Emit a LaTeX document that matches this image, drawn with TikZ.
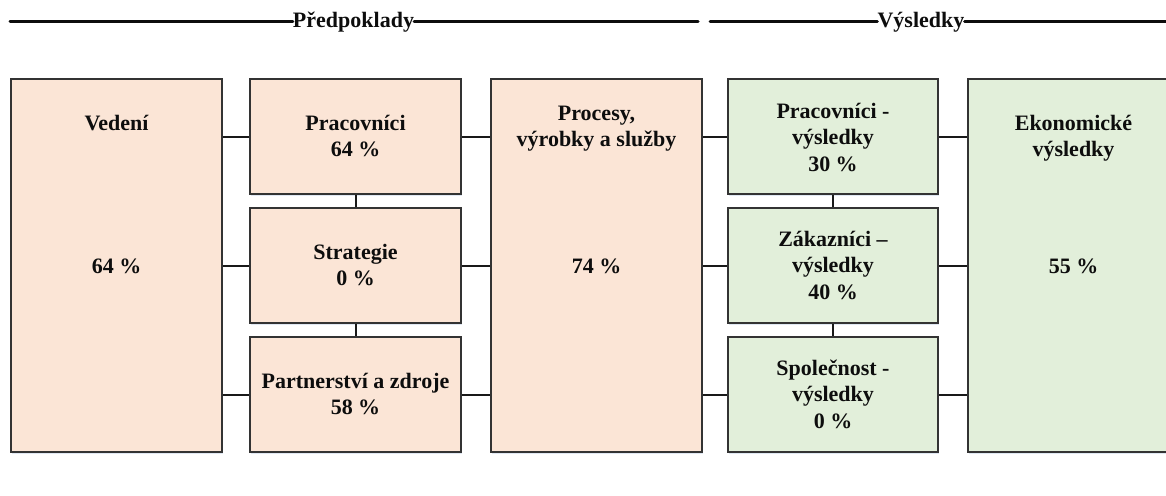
\documentclass[tikz,border=0pt]{standalone}
\usepackage{fontspec}
\setmainfont{Liberation Serif}
\usetikzlibrary{shadows}
\definecolor{orangef}{HTML}{FBE5D6}
\definecolor{greenf}{HTML}{E2EFDA}
\definecolor{bordc}{HTML}{333333}
\definecolor{shadc}{HTML}{D3DEEE}
\tikzset{
  box/.style={draw=bordc, line width=1.8pt, inner sep=0pt, minimum width=211pt,
    drop shadow={shadow xshift=1pt, shadow yshift=-2pt, fill=shadc, opacity=0.7}},
  tallbox/.style={box, minimum height=373pt},
  smallbox/.style={box, minimum height=115pt},
  lbl/.style={font=\bfseries\fontsize{22}{26.5}\selectfont, align=center, anchor=base, inner sep=0pt, text=black!95},
  hdr/.style={font=\bfseries\fontsize{22}{26}\selectfont, anchor=base, inner sep=0pt, text=black!95},
  hline/.style={line width=3pt, line cap=round, black!95},
  conn/.style={line width=2pt, draw=black!90}
}
\begin{document}
\begin{tikzpicture}[x=1pt,y=-1pt]
\useasboundingbox (0,0) rectangle (1166,495);
\clip (0,0) rectangle (1166,495);

% header
\node[hdr] (pred) at (353.5,28) {Předpoklady};
\node[hdr] (vys) at (921,28) {Výsledky};
\coordinate (l1) at (10,22);
\coordinate (l2) at (698,22);
\coordinate (r1) at (710,22);
\coordinate (r2) at (1175,22);
\draw[hline] (l1) -- (l1 -| pred.west);
\draw[hline] (l1 -| pred.east) -- (l2);
\draw[hline] (r1) -- (r1 -| vys.west);
\draw[hline] (r1 -| vys.east) -- (r2);

% boxes
\node[tallbox, fill=orangef] (ved) at (116.5,265.5) {};
\node[smallbox, fill=orangef] (prac) at (355.5,136.5) {};
\node[smallbox, fill=orangef] (strat) at (355.5,265.5) {};
\node[smallbox, fill=orangef] (part) at (355.5,394.5) {};
\node[tallbox, fill=orangef] (proc) at (596.5,265.5) {};
\node[smallbox, fill=greenf, minimum width=210pt] (pv) at (833,136.5) {};
\node[smallbox, fill=greenf, minimum width=210pt] (zv) at (833,265.5) {};
\node[smallbox, fill=greenf, minimum width=210pt] (sv) at (833,394.5) {};
\node[tallbox, fill=greenf] (eko) at (1073.5,265.5) {};

% connectors
\foreach \b in {prac,strat,part}{
  \draw[conn] (ved.east |- \b.west) -- (\b.west);
  \draw[conn] (\b.east) -- (proc.west |- \b.east);
}
\foreach \b in {pv,zv,sv}{
  \draw[conn] (proc.east |- \b.west) -- (\b.west);
  \draw[conn] (\b.east) -- (eko.west |- \b.east);
}
\draw[conn] (prac.south) -- (strat.north);
\draw[conn] (strat.south) -- (part.north);
\draw[conn] (pv.south) -- (zv.north);
\draw[conn] (zv.south) -- (sv.north);

% labels (anchor base = baseline of the last line)
\node[lbl] (tved) at (116.5,130) {Vedení};
\node[lbl] (tvedp) at (116.5,273) {64 \%};
\node[lbl] (tprac) at (355.5,156.5) {Pracovníci\\64 \%};
\node[lbl] (tstrat) at (355.5,285.5) {Strategie\\0 \%};
\node[lbl] (tpart) at (355.5,414.5) {Partnerství a zdroje\\58 \%};
\node[lbl] (tproc) at (596.5,146.5) {Procesy,\\výrobky a služby};
\node[lbl] (tprocp) at (596.5,273) {74 \%};
\node[lbl] (tpv) at (833,171) {Pracovníci -\\výsledky\\30 \%};
\node[lbl] (tzv) at (833,299) {Zákazníci –\\výsledky\\40 \%};
\node[lbl] (tsv) at (833,428) {Společnost -\\výsledky\\0 \%};
\node[lbl] (teko) at (1073.5,156.5) {Ekonomické\\výsledky};
\node[lbl] (tekop) at (1073.5,273) {55 \%};
\end{tikzpicture}
\end{document}
